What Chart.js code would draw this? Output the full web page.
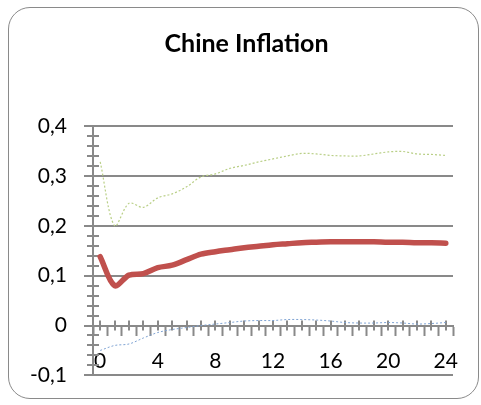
<!DOCTYPE html>
<html>
<head>
<meta charset="utf-8">
<script src="https://cdn.jsdelivr.net/npm/chart.js@4/dist/chart.umd.min.js"></script>
<style>
  html, body { margin: 0; padding: 0; background: #fff; }
  #wrap { position: relative; width: 481px; height: 405px; }
  #frame {
    position: absolute; left: 8px; top: 7px; width: 469px; height: 390px;
    border: 1.5px solid #8a8a8a; border-radius: 22px; pointer-events: none;
  }
</style>
</head>
<body>
<div id="wrap">
  <canvas id="chart" width="481" height="405"></canvas>
  <div id="frame"></div>
</div>
<script>
// Horizon (periods after the shock)
const periods = ['0','1','2','3','4','5','6','7','8','9','10','11','12',
                 '13','14','15','16','17','18','19','20','21','22','23','24'];
// Labelled periods on the horizontal axis
const shownPeriods = ['0','4','8','12','16','20','24'];
// Vertical axis ticks
const yTicks = [-0.1, 0, 0.1, 0.2, 0.3, 0.4];

// Impulse response of inflation and its confidence band
const responseMid = [0.138, 0.080, 0.101, 0.104, 0.116, 0.121, 0.132, 0.143, 0.148, 0.152,
                     0.156, 0.159, 0.162, 0.164, 0.166, 0.167, 0.168, 0.168, 0.168, 0.168,
                     0.167, 0.167, 0.166, 0.166, 0.165];
const responseUpper = [0.328, 0.200, 0.245, 0.237, 0.256, 0.264, 0.278, 0.298, 0.304, 0.315,
                       0.321, 0.328, 0.334, 0.340, 0.345, 0.344, 0.341, 0.340, 0.340, 0.344,
                       0.348, 0.349, 0.344, 0.343, 0.341];
const responseLower = [-0.050, -0.040, -0.037, -0.025, -0.014, -0.008, -0.004, 0.000, 0.003, 0.006,
                       0.009, 0.010, 0.010, 0.012, 0.012, 0.011, 0.009, 0.006, 0.005, 0.005,
                       0.006, 0.005, 0.003, 0.004, 0.006];

const axisGrey = '#898989';
const fontFamily = 'Lato, "Liberation Sans", sans-serif';

function fmtComma(v) {
  if (Math.abs(v) < 1e-9) return '0';
  return v.toFixed(1).replace('.', ',');
}

// Small cross ticks: minor steps on the value axis, category centres on the zero line
const minorTicks = {
  id: 'minorTicks',
  afterLayout(chart) {
    // centre the title over the framed card rather than the padded canvas
    if (chart.titleBlock) {
      chart.titleBlock.left = 40;
      chart.titleBlock.right = chart.chartArea.right;
    }
  },
  beforeDatasetsDraw(chart) {
    const { ctx, chartArea, scales: { x, y } } = chart;
    ctx.save();
    ctx.strokeStyle = axisGrey;
    ctx.lineWidth = 2;
    ctx.beginPath();
    const steps = Math.round((yTicks[yTicks.length - 1] - yTicks[0]) / 0.02);
    for (let k = 0; k <= steps; k++) {
      if (k % 5 === 0) continue;
      const v = yTicks[0] + k * 0.02;
      const py = Math.round(y.getPixelForValue(v));
      ctx.moveTo(chartArea.left - 6, py);
      ctx.lineTo(chartArea.left + 6, py);
    }
    const y0 = y.getPixelForValue(0);
    periods.forEach((p, i) => {
      const px = Math.round(x.getPixelForValue(i));
      ctx.moveTo(px, y0 - 5);
      ctx.lineTo(px, y0 + 5);
    });
    ctx.stroke();
    ctx.restore();
  }
};

new Chart(document.getElementById('chart'), {
  type: 'line',
  data: {
    labels: periods,
    datasets: [
      {
        data: responseLower,
        borderColor: '#7fa3d3',
        borderWidth: 1,
        borderDash: [2, 2],
        pointRadius: 0,
        tension: 0.33
      },
      {
        data: responseUpper,
        borderColor: '#b9cf86',
        borderWidth: 1.2,
        borderDash: [2, 2],
        pointRadius: 0,
        tension: 0.33
      },
      {
        data: responseMid,
        borderColor: '#c0504d',
        borderWidth: 5.5,
        borderCapStyle: 'round',
        borderJoinStyle: 'round',
        pointRadius: 0,
        tension: 0.33
      }
    ]
  },
  options: {
    responsive: false,
    animation: false,
    devicePixelRatio: 1,
    layout: { padding: { left: 10, right: 28, top: 20, bottom: 16 } },
    plugins: {
      legend: { display: false },
      tooltip: { enabled: false },
      title: {
        display: true,
        text: 'Chine Inflation',
        color: '#000',
        font: { family: fontFamily, size: 25, weight: 'bold', lineHeight: 1.2 },
        padding: { top: 9, bottom: 67 }
      }
    },
    scales: {
      x: {
        type: 'category',
        offset: true,
        position: { y: 0 },
        afterFit(scale) { scale.height = 20; },
        grid: {
          offset: true,
          drawOnChartArea: false,
          tickLength: 9,
          tickWidth: 2,
          tickColor: axisGrey,
          color: axisGrey
        },
        border: { color: axisGrey, width: 2 },
        ticks: {
          autoSkip: false,
          maxRotation: 0,
          padding: 14,
          color: '#000',
          font: { family: fontFamily, size: 21 },
          callback(value, index) {
            const lab = periods[index];
            return shownPeriods.includes(lab) ? lab : '';
          }
        }
      },
      y: {
        min: yTicks[0],
        max: yTicks[yTicks.length - 1],
        afterFit(scale) { scale.width = 83; },
        afterBuildTicks(scale) { scale.ticks = yTicks.map(v => ({ value: v })); },
        grid: {
          color: axisGrey,
          lineWidth: 2,
          tickLength: 9,
          tickColor: axisGrey
        },
        border: { color: axisGrey, width: 2 },
        ticks: {
          padding: 17,
          color: '#000',
          font: { family: fontFamily, size: 21 },
          callback(value) { return fmtComma(value); }
        }
      }
    }
  },
  plugins: [minorTicks]
});
</script>
</body>
</html>
